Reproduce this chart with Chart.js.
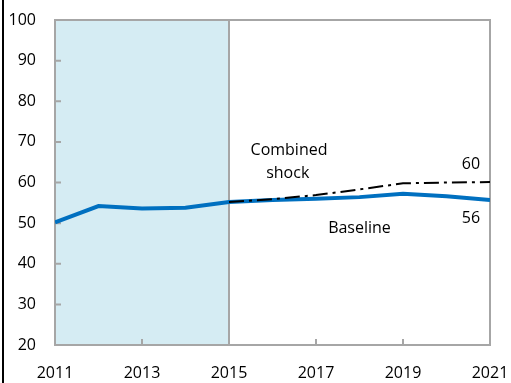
<!DOCTYPE html>
<html>
<head>
<meta charset="utf-8">
<script src="https://cdn.jsdelivr.net/npm/chart.js@4"></script>
<style>
  html, body { margin: 0; padding: 0; background: #fff; }
  #wrap { position: relative; width: 511px; height: 383px; }
  #wrap::before { content: ""; position: absolute; left: 2px; top: 0; bottom: 0; width: 2px; background: #000; }
  canvas { display: block; }
</style>
</head>
<body>
<div id="wrap"><canvas id="debtChart" width="511" height="383"></canvas></div>
<script>
const years = [2011, 2012, 2013, 2014, 2015, 2016, 2017, 2018, 2019, 2020, 2021];
const baseline = [50.2, 54.2, 53.6, 53.8, 55.2, 55.7, 56.0, 56.4, 57.2, 56.6, 55.7];
const shockYears = [2015, 2016, 2017, 2018, 2019, 2020, 2021];
const combinedShock = [55.2, 55.9, 56.9, 58.3, 59.8, 60.0, 60.1];
const historyEnd = 2015;
const yTicks = [20, 30, 40, 50, 60, 70, 80, 90, 100];
const xTicks = [2011, 2013, 2015, 2017, 2019, 2021];

const FONT = "'Open Sans', 'DejaVu Sans', sans-serif";

const framePlugin = {
    id: 'frame',
    beforeDatasetsDraw(chart) {
        const { ctx, chartArea: a, scales: { x, y } } = chart;
        ctx.save();
        // shaded history period
        ctx.fillStyle = '#d5ecf3';
        const xe = x.getPixelForValue(historyEnd);
        ctx.fillRect(a.left, a.top, xe - a.left, a.bottom - a.top);
        // inner tick marks
        ctx.strokeStyle = '#a6a6a6';
        ctx.lineWidth = 2;
        ctx.beginPath();
        yTicks.slice(1, -1).forEach(v => {
            const py = y.getPixelForValue(v);
            ctx.moveTo(a.left, py);
            ctx.lineTo(a.left + 6, py);
        });
        xTicks.slice(1, -1).forEach(v => {
            const px = x.getPixelForValue(v);
            ctx.moveTo(px, a.bottom);
            ctx.lineTo(px, a.bottom - 6);
        });
        ctx.stroke();
        // plot border and divider
        ctx.strokeRect(a.left, a.top, a.right - a.left, a.bottom - a.top);
        ctx.beginPath();
        ctx.moveTo(xe, a.top);
        ctx.lineTo(xe, a.bottom);
        ctx.stroke();
        ctx.restore();
    },
    afterDatasetsDraw(chart) {
        const { ctx, scales: { x, y } } = chart;
        ctx.save();
        ctx.fillStyle = '#000';
        ctx.font = '16px ' + FONT;
        ctx.textAlign = 'center';
        ctx.textBaseline = 'middle';
        const last = years[years.length - 1];
        const px = x.getPixelForValue(last) - 19;
        ctx.fillText(Math.round(combinedShock[combinedShock.length - 1]), px, y.getPixelForValue(combinedShock[combinedShock.length - 1]) - 18);
        ctx.fillText(Math.round(baseline[baseline.length - 1]), px, y.getPixelForValue(baseline[baseline.length - 1]) + 18);
        ctx.fillText('Combined', x.getPixelForValue(2016.38), y.getPixelForValue(67.9));
        ctx.fillText('shock', x.getPixelForValue(2016.35), y.getPixelForValue(62.3));
        ctx.fillText('Baseline', x.getPixelForValue(2018.0), y.getPixelForValue(48.7));
        ctx.restore();
    }
};

const ctx = document.getElementById('debtChart').getContext('2d');

new Chart(ctx, {
    type: 'line',
    data: {
        datasets: [{
            label: 'Combined shock',
            data: shockYears.map((yr, i) => ({ x: yr, y: combinedShock[i] })),
            borderColor: '#000',
            borderWidth: 2,
            borderDash: [15, 5, 3, 5],
            pointRadius: 0,
            tension: 0
        }, {
            label: 'Baseline',
            data: years.map((yr, i) => ({ x: yr, y: baseline[i] })),
            borderColor: '#0070c0',
            borderWidth: 4,
            pointRadius: 0,
            tension: 0
        }]
    },
    options: {
        responsive: false,
        animation: false,
        layout: { padding: { top: 20, right: 21, left: 0, bottom: 0 } },
        plugins: {
            legend: { display: false },
            tooltip: { enabled: false }
        },
        scales: {
            x: {
                type: 'linear',
                min: 2011,
                max: 2021,
                afterBuildTicks: s => { s.ticks = xTicks.map(v => ({ value: v })); },
                afterFit: s => { s.height = 38; s.paddingLeft = 0; s.paddingRight = 0; },
                grid: { display: false, drawTicks: false },
                border: { display: false },
                ticks: {
                    color: '#000',
                    font: { family: FONT, size: 16 },
                    padding: 19,
                    maxRotation: 0,
                    callback: v => String(v)
                }
            },
            y: {
                min: 20,
                max: 100,
                afterBuildTicks: s => { s.ticks = yTicks.map(v => ({ value: v })); },
                afterFit: s => { s.width = 55; s.paddingTop = 0; s.paddingBottom = 0; },
                grid: { display: false, drawTicks: false },
                border: { display: false },
                ticks: {
                    color: '#000',
                    font: { family: FONT, size: 16 },
                    padding: 19
                }
            }
        }
    },
    plugins: [framePlugin]
});
</script>
</body>
</html>
